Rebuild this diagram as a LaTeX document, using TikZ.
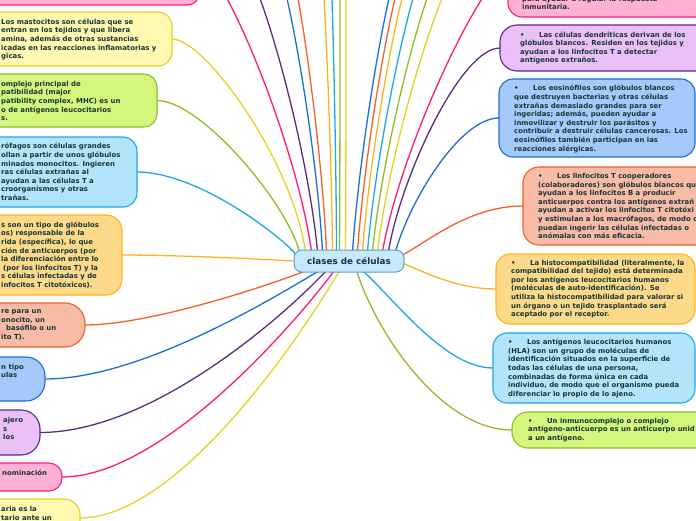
\documentclass[tikz,border=0pt]{standalone}
\usepackage{fontspec}
\setmainfont{DejaVu Sans}
\usetikzlibrary{calc}
\pgfdeclarelayer{bg}
\pgfsetlayers{bg,main}
\definecolor{cPink}{HTML}{FF1A75}\definecolor{fPink}{HTML}{FFB0D5}
\definecolor{cYel}{HTML}{E6D31E}\definecolor{fYel}{HTML}{FFF8B0}
\definecolor{cGrn}{HTML}{8CBF26}\definecolor{fGrn}{HTML}{D4F67C}
\definecolor{cLbl}{HTML}{1EA7E8}\definecolor{fLbl}{HTML}{B2E5FB}
\definecolor{cOrg}{HTML}{FFB31A}\definecolor{fOrg}{HTML}{FCDA8A}
\definecolor{cSal}{HTML}{F4602A}\definecolor{fSal}{HTML}{F8BBA7}
\definecolor{cBlu}{HTML}{1A6ED8}\definecolor{fBlu}{HTML}{A6C9FB}
\definecolor{cPur}{HTML}{5C2A82}\definecolor{fPur}{HTML}{EBC0F9}
\definecolor{cCen}{HTML}{5B9FD3}\definecolor{fCen}{HTML}{C6EAF9}
\definecolor{txtc}{HTML}{173636}
\definecolor{cenTxt}{HTML}{1B2F4E}
\newcommand\mybul{•\hspace{14.5pt}}
\begin{document}
\begin{tikzpicture}[x=1pt,y=-1pt,
  conn/.style={line width=1.3pt},
  box/.style={rounded corners=#1, line width=1.1pt, inner sep=0pt, outer sep=0pt},
  box/.default=13pt,
  txt/.style={font=\bfseries\fontsize{6.9}{8.6}\selectfont, text=txtc, align=left, inner sep=0pt, anchor=west},
  central/.style={rounded corners=8pt, line width=1pt, draw=cCen, fill=fCen, minimum width=110pt, minimum height=22pt, inner sep=0pt, font=\bfseries\fontsize{8.8}{10}\selectfont, text=cenTxt}
]
\useasboundingbox (0,0) rectangle (696,520);
\clip (0,0) rectangle (696,520);

% central node
\node[central] (c) at (349,261) {clases de células};

% left boxes
\node[box, draw=cPink, fill=fPink, minimum width=250pt, minimum height=45pt] (L1) at (75,-17.5) {};
\node[box=14pt, draw=cYel, fill=fYel, minimum width=222pt, minimum height=54pt] (L2) at (61,39) {};
\node[box, draw=cGrn, fill=fGrn, minimum width=207pt, minimum height=53pt] (L3) at (53.5,100.5) {};
\node[box=14pt, draw=cLbl, fill=fLbl, minimum width=187pt, minimum height=70pt] (L4) at (43.5,172) {};
\node[box=16pt, draw=cOrg, fill=fOrg, minimum width=172pt, minimum height=80pt] (L5) at (36,255) {};
\node[box=20pt, draw=cSal, fill=fSal, minimum width=135pt, minimum height=44pt] (L6) at (17.5,325) {};
\node[box=19pt, draw=cBlu, fill=fBlu, minimum width=95pt, minimum height=44pt] (L7) at (-2.5,379) {};
\node[box=19pt, draw=cPur, fill=fPur, minimum width=90pt, minimum height=45pt] (L8) at (-5,432.5) {};
\node[box=13pt, draw=cPink, fill=fPink, minimum width=112pt, minimum height=28pt] (L9) at (6,477) {};
\node[box=16pt, draw=cYel, fill=fYel, minimum width=130pt, minimum height=38pt] (L10) at (15,518) {};

% right boxes
\node[box=14pt, draw=cPink, fill=fPink, minimum width=242pt, minimum height=57pt] (R1) at (629,-11.5) {};
\node[box=17pt, draw=cPur, fill=fPur, minimum width=250pt, minimum height=46pt] (R2) at (625,48) {};
\node[box=14pt, draw=cBlu, fill=fBlu, minimum width=196pt, minimum height=78pt] (R3) at (597,118) {};
\node[box=16pt, draw=cSal, fill=fSal, minimum width=227pt, minimum height=78pt] (R4) at (636.5,206) {};
\node[box=14pt, draw=cOrg, fill=fOrg, minimum width=199pt, minimum height=70pt] (R5) at (595.5,289) {};
\node[box=14pt, draw=cLbl, fill=fLbl, minimum width=202pt, minimum height=70pt] (R6) at (594,368) {};
\node[box=16pt, draw=cGrn, fill=fGrn, minimum width=238pt, minimum height=36pt] (R7) at (631,430) {};

% texts
\node[txt] (L2t) at (1,39.5) {Los mastocitos son células que se\\entran en los tejidos y que libera\\amina, además de otras sustancias\\icadas en las reacciones inflamatorias y\\gicas.};
\node[txt] (L3t) at (1,101) {omplejo principal de\\patibilidad (major\\patibility complex, MHC) es un\\o de antígenos leucocitarios\\s.};
\node[txt] (L4t) at (1,172) {rófagos son células grandes\\ollan a partir de unos glóbulos\\minados monocitos. Ingieren\\ras células extrañas al\\ayudan a las células T a\\croorganismos y otras\\trañas.};
\node[txt] (L5t) at (1,255) {s son un tipo de glóbulos\\os) responsable de la\\rida (específica), lo que\\ción de anticuerpos (por\\la diferenciación entre lo\\\hspace*{2pt}(por los linfocitos T) y la\\s células infectadas y de\\infocitos T citotóxicos).};
\node[txt] (L6t) at (1,325) {re para un\\onocito, un\\\hspace*{5pt}basófilo o un\\ito T).};
\node[txt] (L7t) at (1,371) {n tipo\\ulas};
\node[txt] (L8t) at (3,428.5) {ajero\\s\\los};
\node[txt] (L9t) at (2,473) {nominación};
\node[txt] (L10t) at (1,513.5) {aria es la\\tario ante un};

\node[txt] (R1t) at (522,3) {para ayudar a regular la respuesta\\inmunitaria.};
\node[txt] (R2t) at (520,48) {\mybul Las células dendríticas derivan de los\\glóbulos blancos. Residen en los tejidos y\\ayudan a los linfocitos T a detectar\\antígenos extraños.};
\node[txt] (R3t) at (514,119) {\mybul Los eosinófilos son glóbulos blancos\\que destruyen bacterias y otras células\\extrañas demasiado grandes para ser\\ingeridas; además, pueden ayudar a\\inmovilizar y destruir los parásitos y\\contribuir a destruir células cancerosas. Los\\eosinófilos también participan en las\\reacciones alérgicas.};
\node[txt] (R4t) at (538,206) {\mybul Los linfocitos T cooperadores\\(colaboradores) son glóbulos blancos qu\\ayudan a los linfocitos B a producir\\anticuerpos contra los antígenos extrañ\\ayudan a activar los linfocitos T citotóxi\\y estimulan a los macrófagos, de modo q\\puedan ingerir las células infectadas o\\anómalas con más eficacia.};
\node[txt] (R5t) at (511,289) {\mybul La histocompatibilidad (literalmente, la\\compatibilidad del tejido) está determinada\\por los antígenos leucocitarios humanos\\(moléculas de auto-identificación). Se\\utiliza la histocompatibilidad para valorar si\\un órgano o un tejido trasplantado será\\aceptado por el receptor.};
\node[txt] (R6t) at (508,368.5) {\mybul Los antígenos leucocitarios humanos\\(HLA) son un grupo de moléculas de\\identificación situados en la superficie de\\todas las células de una persona,\\combinadas de forma única en cada\\individuo, de modo que el organismo pueda\\diferenciar lo propio de lo ajeno.};
\node[txt] (R7t) at (528,430) {\mybul Un inmunocomplejo o complejo\\antígeno-anticuerpo es un anticuerpo unid\\a un antígeno.};

% connectors (behind the boxes)
\begin{pgfonlayer}{bg}
\clip (0,0) rectangle (696,520);
% branches leaving the top of the picture
\foreach \xs/\xe/\col [count=\i] in {312/227/cPink,318/260/cPur,323/287/cBlu,327/298/cSal,333/324/cOrg,337/332/cLbl,340/340/cGrn,346/346/cYel,353/389/cBlu,358/395/cSal,363/402/cOrg,368/413/cLbl,373/427/cGrn,378/442/cYel,383/482/cPink}{
  \coordinate (top\i) at ({\xe+0.03*(\xe-\xs)},-6);
  \draw[conn,\col] ([xshift={\xs-294}, yshift=-2]c.north west) .. controls ({\xs+0.14*(\xe-\xs)},170) and ({\xs+0.66*(\xe-\xs)},50) .. (top\i);
}
% left side
\draw[conn,cYel] ([xshift=12,yshift=-2]c.north west) .. controls (292,160) and (205,39) .. (L2.east);
\draw[conn,cGrn] ([xshift=6,yshift=-2]c.north west) .. controls (285,200) and (200,100.5) .. (L3.east);
\draw[conn,cLbl] ([xshift=2,yshift=7]c.west) .. controls (285,240) and (200,172) .. (L4.east);
\draw[conn,cOrg] (c.west) .. controls (240,258) and (170,255) .. (L5.east);
\draw[conn,cSal] ([xshift=13,yshift=2]c.south west) .. controls (270,285) and (150,325) .. (L6.east);
\draw[conn,cBlu] ([xshift=26,yshift=2]c.south west) .. controls (270,300) and (140,379) .. (L7.east);
\draw[conn,cPur] ([xshift=33,yshift=2]c.south west) .. controls (280,320) and (150,432.5) .. (L8.east);
\draw[conn,cPink] ([xshift=41,yshift=2]c.south west) .. controls (290,330) and (160,477) .. (L9.east);
\draw[conn,cYel] ([xshift=46,yshift=2]c.south west) .. controls (305,330) and (180,518) .. (L10.east);
% right side
\draw[conn,cPur] ([xshift=-16,yshift=-2]c.north east) .. controls (400,180) and (460,48) .. (R2.west);
\draw[conn,cBlu] ([xshift=-9,yshift=-2]c.north east) .. controls (410,200) and (460,118) .. (R3.west);
\draw[conn,cSal] ([xshift=-2,yshift=6]c.east) .. controls (430,240) and (470,206) .. (R4.west);
\draw[conn,cOrg] ([xshift=-2,yshift=-2]c.east) .. controls (430,275) and (460,289) .. (R5.west);
\draw[conn,cLbl] ([xshift=69,yshift=2]c.south west) .. controls (395,300) and (445,368) .. (R6.west);
\draw[conn,cGrn] ([xshift=63,yshift=2]c.south west) .. controls (375,330) and (440,430) .. (R7.west);
\end{pgfonlayer}
\end{tikzpicture}
\end{document}
